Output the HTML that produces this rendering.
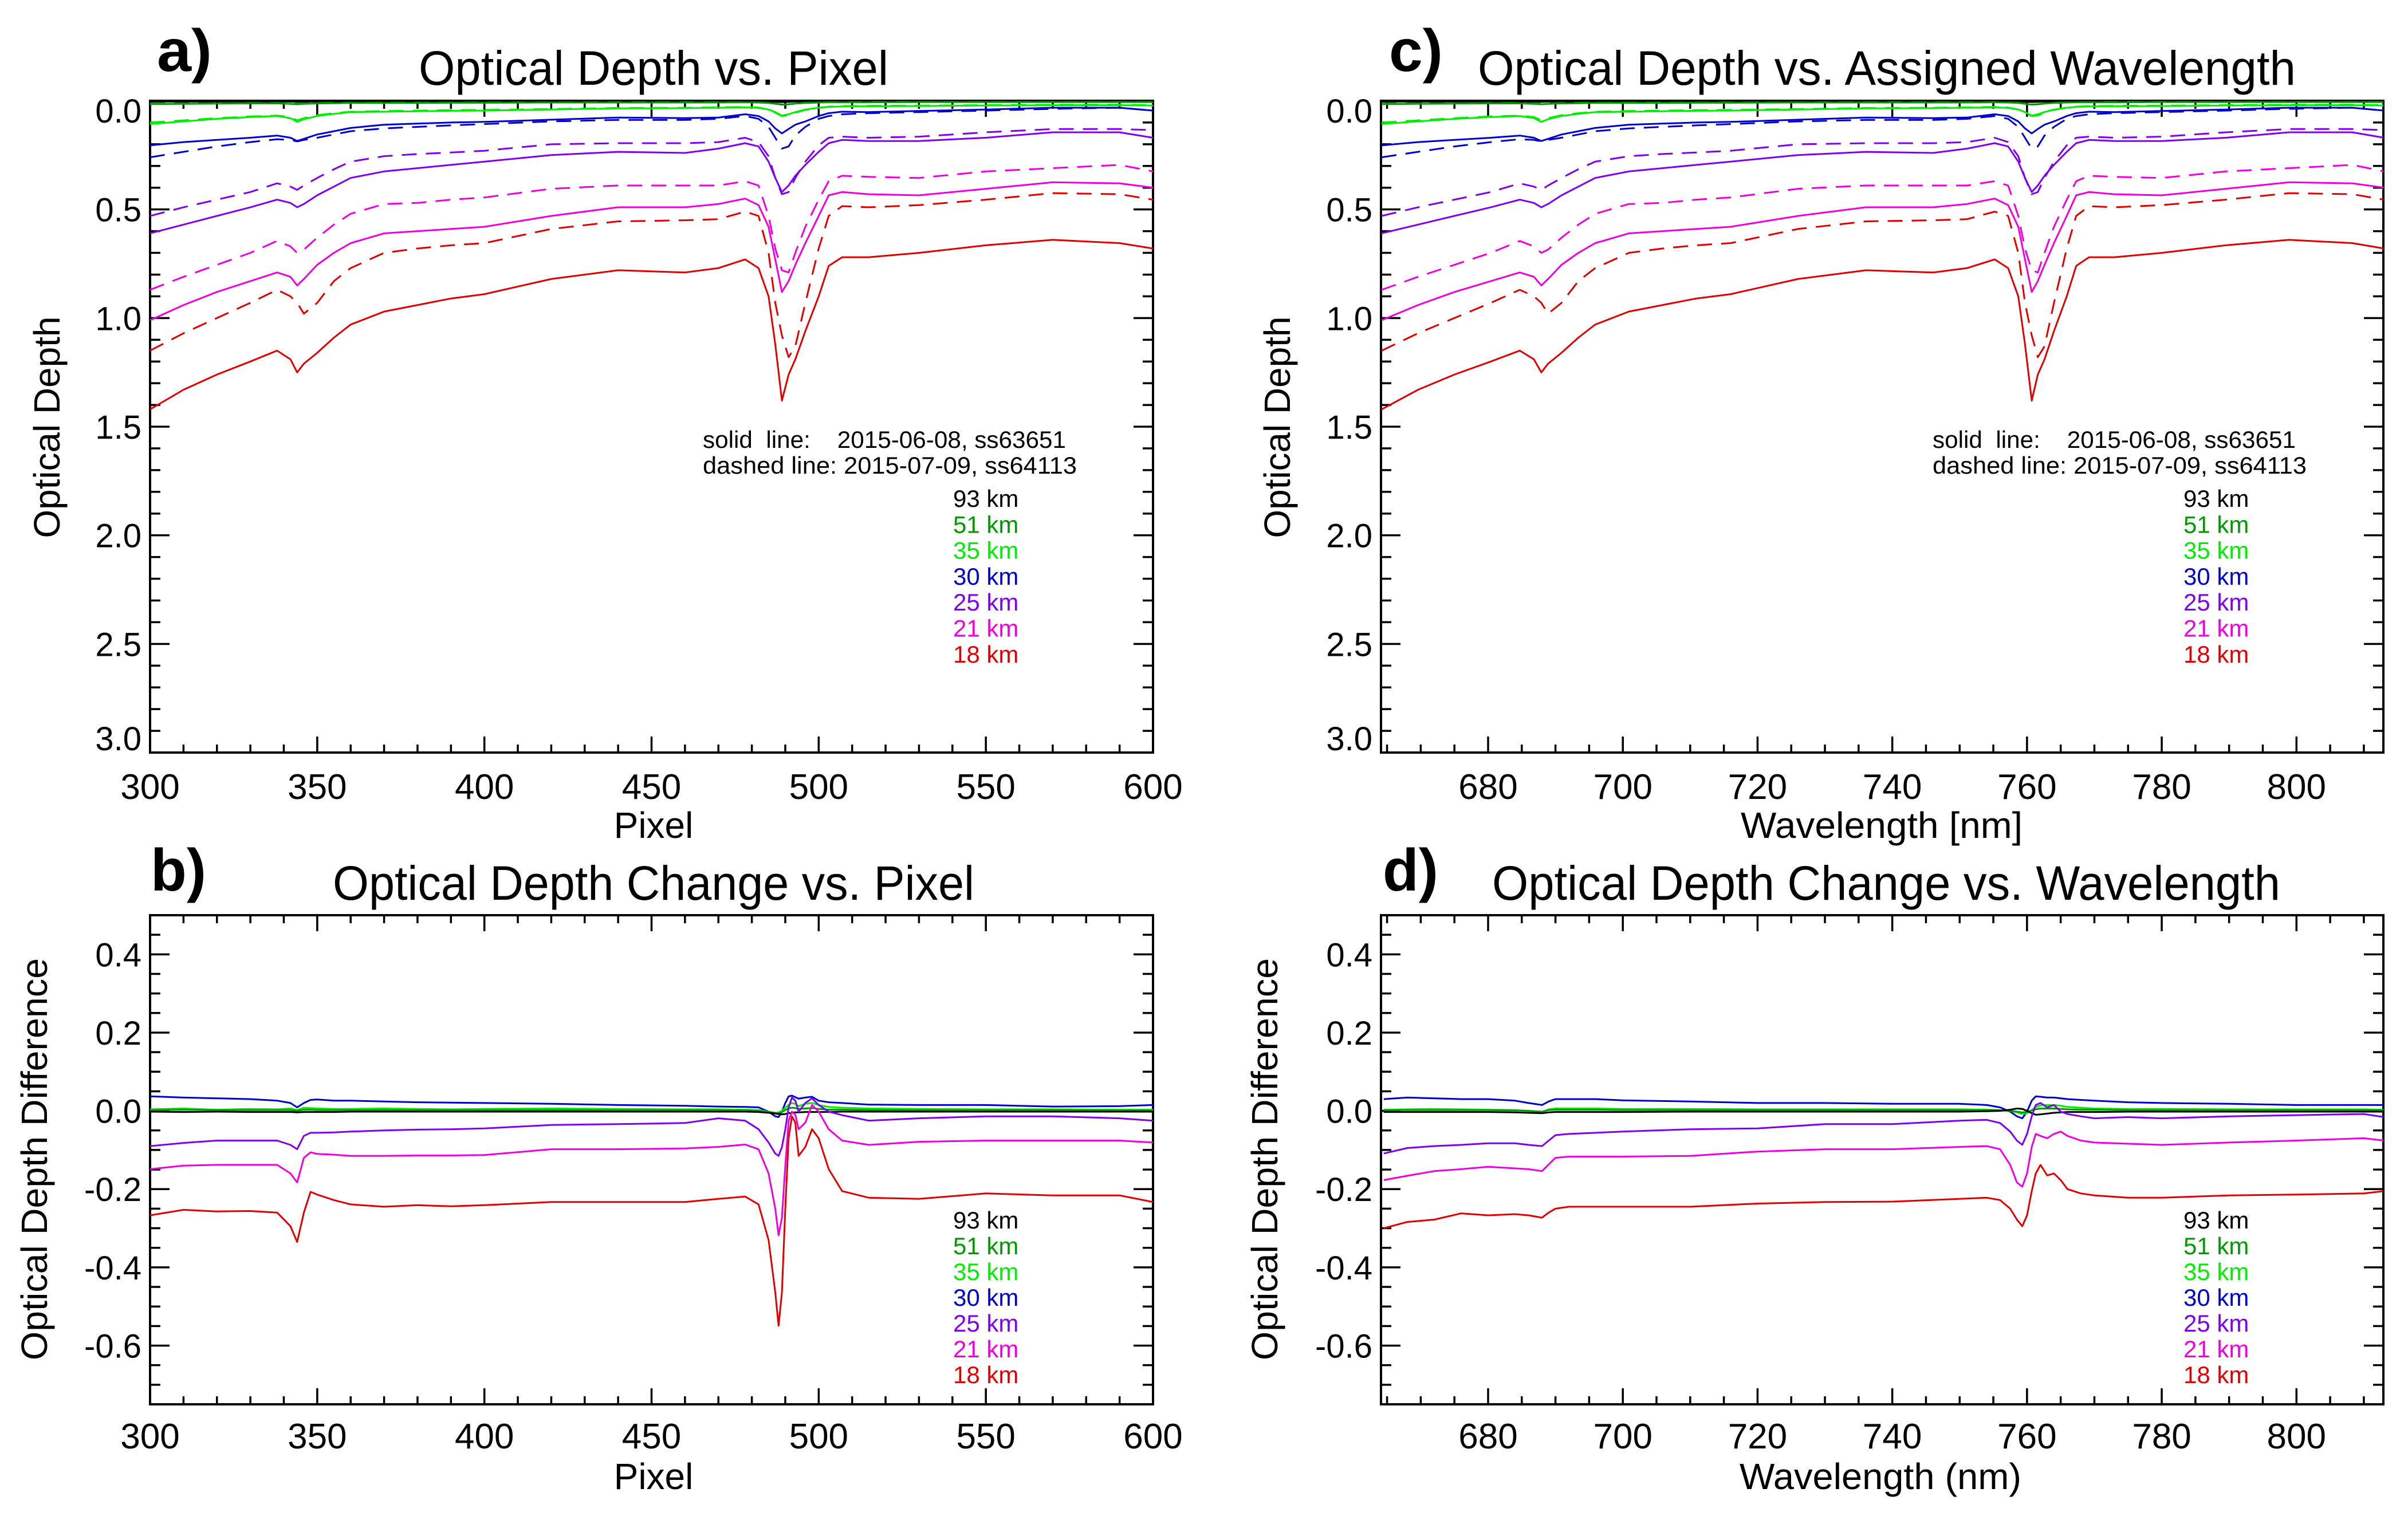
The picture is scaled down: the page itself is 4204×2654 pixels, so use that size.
<!DOCTYPE html>
<html><head><meta charset="utf-8"><title>Optical Depth Panels</title>
<style>html,body{margin:0;padding:0;background:#fff}svg{display:block}text{font-family:"Liberation Sans",Arial,sans-serif}</style>
</head><body>
<svg id="fig" xmlns="http://www.w3.org/2000/svg" width="4204" height="2654" viewBox="0 0 4204 2654">
<rect x="0" y="0" width="4204" height="2654" fill="#fff"/>
</svg>
<script>
// ---------- data: panel a / c (optical depth) ----------
const pixA = [300,310,320,330,338,342,344,346,350,355,360,370,380,390,400,420,440,460,470,478,482,485,487,489,491,493,496,500,503,507,515,530,550,570,590,600];
const wlA = [664.2,669.6,675.0,680.4,684.7,686.8,687.9,688.9,690.9,693.4,695.9,700.9,705.9,710.9,716.0,726.0,736.1,746.1,751.1,755.2,757.2,758.7,759.7,760.7,761.6,762.6,764.0,765.9,767.3,769.2,773.0,780.0,789.5,798.9,808.3,813.0];
const od18Solid = [1.42,1.33,1.26,1.20,1.15,1.19,1.25,1.21,1.16,1.09,1.03,0.97,0.94,0.91,0.89,0.82,0.78,0.79,0.77,0.73,0.77,0.90,1.12,1.38,1.26,1.19,1.06,0.90,0.76,0.72,0.72,0.70,0.665,0.64,0.655,0.68];
const od18Dashed = [1.15,1.07,1.00,0.93,0.87,0.90,0.93,0.98,0.93,0.83,0.77,0.70,0.68,0.665,0.655,0.59,0.555,0.55,0.545,0.51,0.53,0.70,0.93,1.08,1.18,1.13,0.93,0.68,0.53,0.485,0.49,0.48,0.455,0.425,0.43,0.455];
const od21Solid = [1.01,0.94,0.88,0.83,0.79,0.81,0.85,0.82,0.755,0.70,0.655,0.61,0.60,0.59,0.58,0.53,0.49,0.49,0.475,0.45,0.48,0.58,0.73,0.88,0.83,0.755,0.655,0.53,0.435,0.42,0.43,0.435,0.405,0.375,0.38,0.40];
const od21Dashed = [0.87,0.81,0.755,0.70,0.645,0.67,0.70,0.685,0.63,0.57,0.52,0.475,0.47,0.455,0.445,0.405,0.39,0.39,0.39,0.37,0.39,0.53,0.68,0.78,0.79,0.70,0.58,0.455,0.37,0.345,0.35,0.355,0.325,0.31,0.295,0.325];
const od25Solid = [0.61,0.57,0.53,0.49,0.455,0.47,0.49,0.475,0.435,0.395,0.355,0.325,0.31,0.295,0.28,0.25,0.235,0.24,0.22,0.195,0.21,0.28,0.355,0.42,0.39,0.345,0.295,0.235,0.195,0.18,0.185,0.185,0.17,0.145,0.145,0.17];
const od25Dashed = [0.53,0.49,0.455,0.42,0.38,0.395,0.41,0.39,0.355,0.315,0.28,0.255,0.245,0.238,0.23,0.20,0.195,0.195,0.19,0.17,0.19,0.255,0.355,0.43,0.42,0.355,0.28,0.205,0.17,0.165,0.17,0.165,0.145,0.13,0.13,0.135];
const od30Solid = [0.205,0.19,0.18,0.17,0.16,0.17,0.185,0.175,0.155,0.14,0.125,0.11,0.105,0.1,0.097,0.087,0.077,0.08,0.077,0.062,0.07,0.095,0.127,0.15,0.13,0.11,0.095,0.07,0.057,0.05,0.052,0.047,0.04,0.032,0.032,0.045];
const od30Dashed = [0.26,0.235,0.21,0.19,0.177,0.18,0.187,0.18,0.17,0.155,0.14,0.127,0.12,0.113,0.107,0.095,0.088,0.088,0.083,0.07,0.083,0.12,0.17,0.22,0.21,0.16,0.12,0.083,0.07,0.062,0.057,0.052,0.045,0.037,0.032,0.045];
const od35Solid = [0.107,0.095,0.083,0.075,0.07,0.08,0.097,0.085,0.07,0.06,0.052,0.05,0.048,0.046,0.045,0.04,0.035,0.034,0.032,0.03,0.033,0.04,0.052,0.068,0.062,0.052,0.04,0.032,0.028,0.026,0.025,0.024,0.022,0.02,0.02,0.022];
const od35Dashed = [0.1,0.09,0.08,0.072,0.068,0.075,0.09,0.08,0.066,0.057,0.05,0.047,0.045,0.043,0.042,0.038,0.033,0.032,0.03,0.028,0.031,0.04,0.055,0.07,0.068,0.055,0.042,0.032,0.027,0.024,0.023,0.022,0.02,0.018,0.018,0.02];
const od51Solid = [0.015,0.014,0.013,0.012,0.012,0.014,0.016,0.014,0.012,0.011,0.01,0.01,0.01,0.009,0.009,0.008,0.008,0.008,0.008,0.007,0.008,0.01,0.014,0.018,0.016,0.013,0.01,0.008,0.007,0.007,0.007,0.006,0.006,0.006,0.006,0.006];
const od51Dashed = [0.013,0.012,0.011,0.01,0.01,0.012,0.014,0.012,0.01,0.009,0.009,0.008,0.008,0.008,0.007,0.007,0.006,0.006,0.006,0.006,0.007,0.009,0.013,0.017,0.016,0.012,0.009,0.007,0.006,0.006,0.005,0.005,0.005,0.005,0.005,0.005];
const od93Solid = [0.004,0.004,0.004,0.004,0.004,0.004,0.005,0.004,0.004,0.004,0.003,0.003,0.003,0.003,0.003,0.003,0.003,0.003,0.003,0.003,0.003,0.004,0.005,0.006,0.005,0.004,0.004,0.003,0.003,0.003,0.003,0.003,0.003,0.003,0.003,0.003];
const od93Dashed = [0.003,0.003,0.003,0.003,0.003,0.003,0.004,0.003,0.003,0.003,0.003,0.003,0.003,0.003,0.003,0.002,0.002,0.002,0.002,0.002,0.002,0.003,0.004,0.005,0.005,0.004,0.003,0.003,0.002,0.002,0.002,0.002,0.002,0.002,0.002,0.002];

// ---------- data: panel b (difference vs pixel) ----------
const pixB = [300,310,320,330,338,342,344,346,348,350,355,360,370,380,390,400,420,440,460,470,478,482,485,487,488,489,490,491,492,493,494,496,498,500,503,507,515,530,550,570,590,600];
const diff18B = [-0.267,-0.253,-0.257,-0.256,-0.26,-0.295,-0.335,-0.26,-0.207,-0.214,-0.228,-0.239,-0.245,-0.241,-0.244,-0.241,-0.233,-0.233,-0.233,-0.225,-0.219,-0.239,-0.33,-0.464,-0.549,-0.464,-0.25,-0.07,-0.014,-0.03,-0.115,-0.092,-0.047,-0.07,-0.149,-0.205,-0.222,-0.225,-0.211,-0.216,-0.216,-0.233];
const diff21B = [-0.149,-0.14,-0.138,-0.138,-0.138,-0.16,-0.183,-0.12,-0.106,-0.11,-0.112,-0.115,-0.115,-0.114,-0.114,-0.113,-0.098,-0.098,-0.096,-0.092,-0.086,-0.098,-0.16,-0.25,-0.318,-0.273,-0.14,-0.025,-0.002,-0.01,-0.047,-0.03,0.015,-0.002,-0.047,-0.076,-0.087,-0.079,-0.076,-0.076,-0.076,-0.081];
const diff25B = [-0.09,-0.082,-0.076,-0.076,-0.076,-0.087,-0.098,-0.064,-0.056,-0.056,-0.055,-0.053,-0.05,-0.048,-0.047,-0.045,-0.036,-0.034,-0.031,-0.019,-0.025,-0.047,-0.081,-0.109,-0.115,-0.093,-0.047,0.009,0.034,0.026,-0.002,0.02,0.032,0.015,-0.002,-0.011,-0.025,-0.019,-0.014,-0.014,-0.019,-0.025];
const diff30B = [0.037,0.034,0.032,0.03,0.026,0.02,0.009,0.02,0.028,0.029,0.026,0.026,0.024,0.022,0.021,0.02,0.018,0.015,0.013,0.011,0.01,0.009,-0.002,-0.014,-0.016,-0.002,0.02,0.037,0.039,0.035,0.031,0.034,0.036,0.026,0.022,0.02,0.016,0.015,0.015,0.011,0.012,0.015];
const diff35B = [0.004,0.006,0.003,0.005,0.004,0.006,0.002,0.008,0.007,0.006,0.005,0.005,0.006,0.005,0.004,0.005,0.006,0.005,0.004,0.004,0.003,0.002,-0.002,-0.005,-0.004,0.0,0.008,0.015,0.02,0.018,0.012,0.018,0.02,0.015,0.01,0.008,0.006,0.005,0.004,0.004,0.003,0.003];
const diff51B = [0.002,0.003,0.002,0.002,0.002,0.002,0.0,0.003,0.003,0.002,0.002,0.002,0.002,0.002,0.002,0.002,0.002,0.002,0.002,0.002,0.001,0.0,-0.003,-0.006,-0.006,-0.003,0.002,0.006,0.008,0.007,0.005,0.006,0.007,0.005,0.003,0.003,0.002,0.002,0.002,0.002,0.001,0.001];
const diff93B = [-0.002,-0.003,-0.002,-0.003,-0.003,-0.003,-0.004,-0.003,-0.003,-0.003,-0.003,-0.002,-0.002,-0.002,-0.002,-0.002,-0.002,-0.002,-0.002,-0.002,-0.002,-0.003,-0.005,-0.007,-0.008,-0.009,-0.008,-0.006,-0.005,-0.004,-0.004,-0.003,-0.003,-0.003,-0.003,-0.002,-0.002,-0.002,-0.002,-0.002,-0.002,-0.002];

// ---------- data: panel d (difference vs wavelength) ----------
const wlD = [664.5,668,672,676,680,684,686,688,689,690,692,696,700,710,720,730,740,750,754,756,757.5,758.5,759.3,760,760.7,761.3,762,763,764,765,766,768,770,775,780,790,800,810,813];
const diff18D = [-0.30,-0.284,-0.278,-0.262,-0.267,-0.264,-0.267,-0.273,-0.26,-0.25,-0.245,-0.245,-0.245,-0.245,-0.237,-0.233,-0.232,-0.225,-0.222,-0.228,-0.25,-0.278,-0.295,-0.267,-0.205,-0.16,-0.138,-0.165,-0.16,-0.177,-0.2,-0.211,-0.216,-0.222,-0.222,-0.216,-0.214,-0.211,-0.205];
const diff21D = [-0.177,-0.166,-0.154,-0.149,-0.143,-0.147,-0.149,-0.154,-0.137,-0.12,-0.117,-0.117,-0.117,-0.115,-0.104,-0.098,-0.098,-0.092,-0.09,-0.098,-0.138,-0.183,-0.194,-0.16,-0.092,-0.059,-0.064,-0.07,-0.059,-0.053,-0.064,-0.076,-0.081,-0.084,-0.087,-0.081,-0.076,-0.07,-0.076];
const diff25D = [-0.109,-0.095,-0.09,-0.087,-0.083,-0.083,-0.087,-0.09,-0.076,-0.062,-0.059,-0.056,-0.053,-0.047,-0.045,-0.034,-0.034,-0.025,-0.023,-0.031,-0.053,-0.076,-0.087,-0.059,-0.014,0.015,0.02,0.009,0.015,-0.002,-0.008,-0.014,-0.019,-0.016,-0.019,-0.014,-0.011,-0.008,-0.016];
const diff30D = [0.03,0.034,0.032,0.03,0.03,0.026,0.02,0.015,0.024,0.03,0.03,0.03,0.027,0.024,0.02,0.02,0.018,0.018,0.015,0.009,-0.002,-0.014,-0.019,-0.002,0.026,0.037,0.036,0.034,0.034,0.032,0.03,0.028,0.026,0.022,0.02,0.018,0.015,0.015,0.015];
const diff35D = [0.003,0.004,0.005,0.004,0.003,0.002,0.0,-0.004,0.004,0.006,0.006,0.006,0.005,0.005,0.004,0.004,0.004,0.004,0.003,0.002,0.0,-0.004,-0.008,-0.006,0.002,0.01,0.014,0.015,0.015,0.013,0.01,0.008,0.006,0.005,0.005,0.004,0.004,0.004,0.003];
const diff51D = [0.002,0.002,0.002,0.002,0.002,0.001,0.0,-0.002,0.002,0.003,0.003,0.003,0.002,0.002,0.002,0.002,0.002,0.002,0.002,0.001,0.0,-0.002,-0.004,-0.003,0.001,0.004,0.006,0.006,0.006,0.005,0.004,0.003,0.003,0.002,0.002,0.002,0.002,0.002,0.002];
const diff93D = [-0.003,-0.003,-0.003,-0.003,-0.003,-0.004,-0.005,-0.006,-0.004,-0.003,-0.003,-0.003,-0.003,-0.002,-0.002,-0.002,-0.002,-0.002,-0.001,0.0,0.003,0.006,0.005,0.0,-0.006,-0.01,-0.009,-0.007,-0.005,-0.004,-0.003,-0.003,-0.003,-0.002,-0.002,-0.002,-0.002,-0.002,-0.002];

// ---------- ticks / legend ----------
const xTicksPixel = [300,350,400,450,500,550,600];
const xTicksWl = [680,700,720,740,760,780,800];
const yTicksOD = [0.0,0.5,1.0,1.5,2.0,2.5,3.0];
const yTicksDiff = [0.4,0.2,0.0,-0.2,-0.4,-0.6];
const legendLabels = ["93 km","51 km","35 km","30 km","25 km","21 km","18 km"];
const legendColors = ["#000000","#009a00","#00ee00","#0000cc","#8000f0","#f000e0","#e00000"];

const NS = "http://www.w3.org/2000/svg";
const svg = document.getElementById("fig");

const panels = {
  a:{l:262,r:2013,t:176,b:1314,xmin:300,xmax:600,ytop:0,ybot:3},
  b:{l:262,r:2013,t:1598,b:2452,xmin:300,xmax:600,ytop:0.5,ybot:-0.75},
  c:{l:2411,r:4161,t:176,b:1314,xmin:664.1,xmax:812.9,ytop:0,ybot:3},
  d:{l:2411,r:4161,t:1598,b:2452,xmin:664.1,xmax:812.9,ytop:0.5,ybot:-0.75}
};
function sx(p,v){return p.l+(v-p.xmin)/(p.xmax-p.xmin)*(p.r-p.l);}
function sy(p,v){return p.t+(p.ytop-v)/(p.ytop-p.ybot)*(p.b-p.t);}

function mk(tag,parent){const e=document.createElementNS(NS,tag);parent.appendChild(e);return e;}
function txt(parent,x,y,s,size,anchor,fill,weight){
  const e=mk("text",parent);
  e.setAttribute("x",x);e.setAttribute("y",y);
  e.setAttribute("font-size",size);
  e.setAttribute("text-anchor",anchor||"start");
  e.setAttribute("fill",fill||"#000");
  if(weight)e.setAttribute("font-weight",weight);
  e.textContent=s;return e;
}

function drawAxes(key,name,xt,xMinorStep,yt,yMinorStep,fmtX,fmtY){
  const p=panels[key];
  const g=mk("g",svg);
  
  
  const fr=mk("rect",g);
  fr.setAttribute("x",p.l);fr.setAttribute("y",p.t);fr.setAttribute("width",p.r-p.l);fr.setAttribute("height",p.b-p.t);
  fr.setAttribute("fill","none");fr.setAttribute("stroke","#000");fr.setAttribute("stroke-width","4");
  
  
  let d="";
  const MJ=28,MN=14;
  const xs=Math.ceil(p.xmin/xMinorStep)*xMinorStep;
  for(let v=xs;v<=p.xmax+1e-9;v+=xMinorStep){
    const X=sx(p,v);const major=xt.some(t=>Math.abs(t-v)<1e-6);const L=major?MJ:MN;
    d+=`M${X},${p.b}v${-L}M${X},${p.t}v${L}`;
  }
  const ylo=Math.min(p.ytop,p.ybot),yhi=Math.max(p.ytop,p.ybot);
  const ys=Math.ceil(ylo/yMinorStep-1e-9)*yMinorStep;
  for(let v=ys;v<=yhi+1e-9;v+=yMinorStep){
    const Y=sy(p,v);const major=yt.some(t=>Math.abs(t-v)<1e-6);const L=major?MJ+6:MN+4;
    d+=`M${p.l},${Y}h${L}M${p.r},${Y}h${-L}`;
  }
  const tk=mk("path",g);tk.setAttribute("d",d);tk.setAttribute("stroke","#000");tk.setAttribute("stroke-width","3.5");tk.setAttribute("fill","none");
  
  
  xt.forEach(v=>{
    const e=txt(g,sx(p,v),p.b+(p.t<1000?81:77),fmtX(v),62,"middle");
    
    
  });
  yt.forEach(v=>{
    let Y=sy(p,v)+21;
    if(Y-42<p.t)Y=p.t+38; if(Y>p.b)Y=p.b-4;
    const e=txt(g,247,0,fmtY(v),58,"end");
    e.setAttribute("x",p.l-15);e.setAttribute("y",Y);
    
    
  });
}

function drawSeries(key,name,xs,ys,color,dashed){
  const p=panels[key];
  let d="";
  for(let i=0;i<xs.length;i++){d+=(i?"L":"M")+sx(p,xs[i]).toFixed(1)+","+sy(p,ys[i]).toFixed(1);}
  const e=mk("path",svg);
  e.setAttribute("d",d);e.setAttribute("fill","none");e.setAttribute("stroke",color);
  e.setAttribute("stroke-width","3");e.setAttribute("stroke-linejoin","round");
  if(dashed)e.setAttribute("stroke-dasharray","26,16");
  e.setAttribute("clip-path","url(#clip-"+key+")");
  
  
}

const defs=mk("defs",svg);
Object.keys(panels).forEach(k=>{
  const p=panels[k];const c=mk("clipPath",defs);c.setAttribute("id","clip-"+k);
  const r=mk("rect",c);r.setAttribute("x",p.l);r.setAttribute("y",p.t);r.setAttribute("width",p.r-p.l);r.setAttribute("height",p.b-p.t);
});

const f1=v=>v.toFixed(1);
const f0=v=>String(v);
drawAxes("a","panel-a",xTicksPixel,10,yTicksOD,0.1,f0,f1);
drawAxes("b","panel-b",xTicksPixel,10,yTicksDiff,0.05,f0,f1);
drawAxes("c","panel-c",xTicksWl,5,yTicksOD,0.1,f0,f1);
drawAxes("d","panel-d",xTicksWl,5,yTicksDiff,0.05,f0,f1);

const odSolid=[od93Solid,od51Solid,od35Solid,od30Solid,od25Solid,od21Solid,od18Solid];
const odDashed=[od93Dashed,od51Dashed,od35Dashed,od30Dashed,od25Dashed,od21Dashed,od18Dashed];
const diffB=[diff93B,diff51B,diff35B,diff30B,diff25B,diff21B,diff18B];
const diffD=[diff93D,diff51D,diff35D,diff30D,diff25D,diff21D,diff18D];
const tags=["93km","51km","35km","30km","25km","21km","18km"];
for(let i=0;i<7;i++){
  drawSeries("a","od-pixel-solid-"+tags[i],pixA,odSolid[i],legendColors[i],false);
  drawSeries("a","od-pixel-dashed-"+tags[i],pixA,odDashed[i],legendColors[i],true);
  drawSeries("c","od-wavelength-solid-"+tags[i],wlA,odSolid[i],legendColors[i],false);
  drawSeries("c","od-wavelength-dashed-"+tags[i],wlA,odDashed[i],legendColors[i],true);
}
[3,2,1,0,4,5,6].forEach(i=>{
  drawSeries("b","diff-pixel-"+tags[i],pixB,diffB[i],legendColors[i],false);
  drawSeries("d","diff-wavelength-"+tags[i],wlD,diffD[i],legendColors[i],false);
});

function legend(name,x,y0,dy){
  const g=mk("g",svg);
  
  
  legendLabels.forEach((s,i)=>{
    const e=txt(g,x,y0+i*dy,s,42,"start",legendColors[i]);
    
    
  });
}
legend("legend-a",1664,885,45.3);
legend("legend-b",1664,2145,45);
legend("legend-c",3812,885,45.3);
legend("legend-d",3812,2145,45);
</script>
<script>
(function(){
const NS="http://www.w3.org/2000/svg";const svg=document.getElementById("fig");
function t(x,y,s,size,opts){const e=document.createElementNS(NS,"text");svg.appendChild(e);
 e.setAttribute("x",x);e.setAttribute("y",y);e.setAttribute("font-size",size);
 e.setAttribute("text-anchor",opts.anchor||"start");
 if(opts.bold)e.setAttribute("font-weight","bold");
 if(opts.len){e.setAttribute("textLength",opts.len);e.setAttribute("lengthAdjust","spacingAndGlyphs");}
 if(opts.rot)e.setAttribute("transform","rotate(-90 "+x+" "+y+")");
 e.textContent=s;return e;}
let e;
e=t(274,124,"a)",104,{bold:1,len:96});  
e=t(263,1555,"b)",104,{bold:1,len:97});  
e=t(2425,124,"c)",104,{bold:1,len:94});  
e=t(2414,1555,"d)",104,{bold:1,len:97});  
e=t(1141,148,"Optical Depth vs. Pixel",84,{anchor:"middle",len:820});  
e=t(1141,1571,"Optical Depth Change vs. Pixel",84,{anchor:"middle",len:1120});  
e=t(3294,148,"Optical Depth vs. Assigned Wavelength",84,{anchor:"middle",len:1428});  
e=t(3293,1571,"Optical Depth Change vs. Wavelength",84,{anchor:"middle",len:1376});  
e=t(1141,1463,"Pixel",64,{anchor:"middle"});  
e=t(1141,2600,"Pixel",64,{anchor:"middle"});  
e=t(3285,1463,"Wavelength [nm]",64,{anchor:"middle",len:492});  
e=t(3283,2600,"Wavelength (nm)",64,{anchor:"middle",len:492});  
e=t(104,746,"Optical Depth",64,{anchor:"middle",rot:1,len:387});  
e=t(82,2024,"Optical Depth Difference",64,{anchor:"middle",rot:1,len:702});  
e=t(2252,746,"Optical Depth",64,{anchor:"middle",rot:1,len:387});  
e=t(2230,2024,"Optical Depth Difference",64,{anchor:"middle",rot:1,len:702});  
e=t(1227,782,"solid\u00a0\u00a0line:\u00a0\u00a0\u00a0\u00a02015-06-08, ss63651",42,{len:634});  
e=t(1227,827,"dashed line: 2015-07-09, ss64113",42,{len:653});  
e=t(3374,782,"solid\u00a0\u00a0line:\u00a0\u00a0\u00a0\u00a02015-06-08, ss63651",42,{len:634});  
e=t(3374,827,"dashed line: 2015-07-09, ss64113",42,{len:653});  
})();
</script>
</body></html>
